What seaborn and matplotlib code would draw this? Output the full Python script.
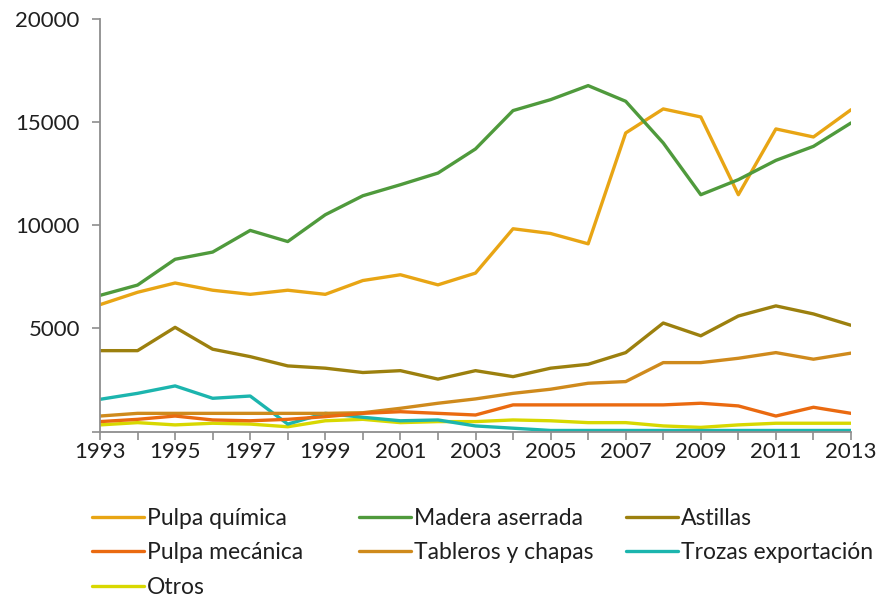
import matplotlib
matplotlib.use("Agg")
import matplotlib.pyplot as plt
import seaborn as sns
import pandas as pd
from matplotlib.lines import Line2D

years = list(range(1993, 2014))

pulpa_quimica = [6150, 6750, 7200, 6850, 6650, 6850, 6650, 7320, 7600, 7110, 7680,
                 9830, 9600, 9100, 14475, 15640, 15250, 11480, 14670, 14280, 15600]
madera_aserrada = [6600, 7100, 8350, 8700, 9750, 9210, 10510, 11430, 11965, 12530, 13700,
                   15560, 16090, 16770, 16010, 13990, 11480, 12210, 13145, 13825, 14960]
astillas = [3920, 3920, 5050, 3990, 3630, 3180, 3070, 2860, 2950, 2540, 2950,
            2660, 3070, 3260, 3825, 5260, 4640, 5600, 6090, 5700, 5150]
pulpa_mecanica = [480, 590, 750, 560, 520, 590, 720, 880, 960, 880, 800,
                  1290, 1290, 1290, 1290, 1290, 1370, 1240, 750, 1175, 880]
tableros_chapas = [750, 880, 880, 880, 880, 880, 880, 910, 1125, 1370, 1580,
                   1850, 2050, 2340, 2420, 3340, 3340, 3550, 3825, 3505, 3800]
trozas_exportacion = [1560, 1850, 2210, 1610, 1720, 360, 880, 690, 520, 560, 270,
                      160, 50, 50, 50, 50, 50, 50, 50, 50, 50]
otros = [320, 430, 320, 400, 360, 230, 520, 590, 430, 480, 480,
         560, 520, 430, 430, 270, 200, 320, 400, 400, 400]

series = {
    "Pulpa química": pulpa_quimica,
    "Madera aserrada": madera_aserrada,
    "Astillas": astillas,
    "Pulpa mecánica": pulpa_mecanica,
    "Tableros y chapas": tableros_chapas,
    "Trozas exportación": trozas_exportacion,
    "Otros": otros,
}
colors = {
    "Pulpa química": "#E8A514",
    "Madera aserrada": "#4F9A3C",
    "Astillas": "#9C800E",
    "Pulpa mecánica": "#EA6A10",
    "Tableros y chapas": "#CF8A1C",
    "Trozas exportación": "#1CB5AE",
    "Otros": "#D8D800",
}

df = pd.DataFrame(
    [(y, name, v) for name, vals in series.items() for y, v in zip(years, vals)],
    columns=["year", "serie", "value"],
)

sns.set_theme(style="white")
plt.rcParams["font.family"] = ["Lato", "DejaVu Sans"]
text_color = "#1F1F1F"
axis_color = "#8E8E8E"

fig = plt.figure(figsize=(8.85, 6.0), dpi=100)
ax = fig.add_axes([100 / 885, 1 - 431.5 / 600, 751 / 885, 412.5 / 600])

# draw the minor series first so the main ones sit on top
draw_order = ["Otros", "Trozas exportación", "Tableros y chapas", "Pulpa mecánica",
              "Astillas", "Pulpa química", "Madera aserrada"]
sns.lineplot(data=df, x="year", y="value", hue="serie", hue_order=draw_order,
             palette=colors, linewidth=2.4, ax=ax, legend=False)

ax.set_xlim(1993, 2013)
ax.set_ylim(0, 20000)
ax.set_xlabel("")
ax.set_ylabel("")

ax.set_yticks([0, 5000, 10000, 15000, 20000])
ax.set_yticklabels(["", "5000", "10000", "15000", "20000"])
ax.set_xticks(years)
ax.set_xticklabels([str(y) if (y - 1993) % 2 == 0 else "" for y in years])

for side in ["top", "right"]:
    ax.spines[side].set_visible(False)
for side in ["left", "bottom"]:
    ax.spines[side].set_color(axis_color)
    ax.spines[side].set_linewidth(1.3)

ax.tick_params(axis="both", which="major", direction="out", length=5.5, width=1.2,
               color=axis_color, labelsize=16, labelcolor=text_color)
ax.tick_params(axis="y", pad=9, left=True)
ax.tick_params(axis="x", pad=2, bottom=True)

# legend: three columns, filled row by row
legend_cols = [
    ["Pulpa química", "Pulpa mecánica", "Otros"],
    ["Madera aserrada", "Tableros y chapas"],
    ["Astillas", "Trozas exportación"],
]
col_x = [92 / 885, 359 / 885, 626 / 885]
for names, x0 in zip(legend_cols, col_x):
    handles = [Line2D([0], [0], color=colors[n], linewidth=2.4) for n in names]
    leg = fig.legend(handles, names, loc="upper left", bbox_to_anchor=(x0, 1 - 508 / 600),
                     frameon=False, fontsize=16.5, handlelength=2.25, handletextpad=0.15,
                     labelspacing=0.58, borderaxespad=0, borderpad=0)
    for t in leg.get_texts():
        t.set_color(text_color)

fig.savefig("out.png", dpi=100)
